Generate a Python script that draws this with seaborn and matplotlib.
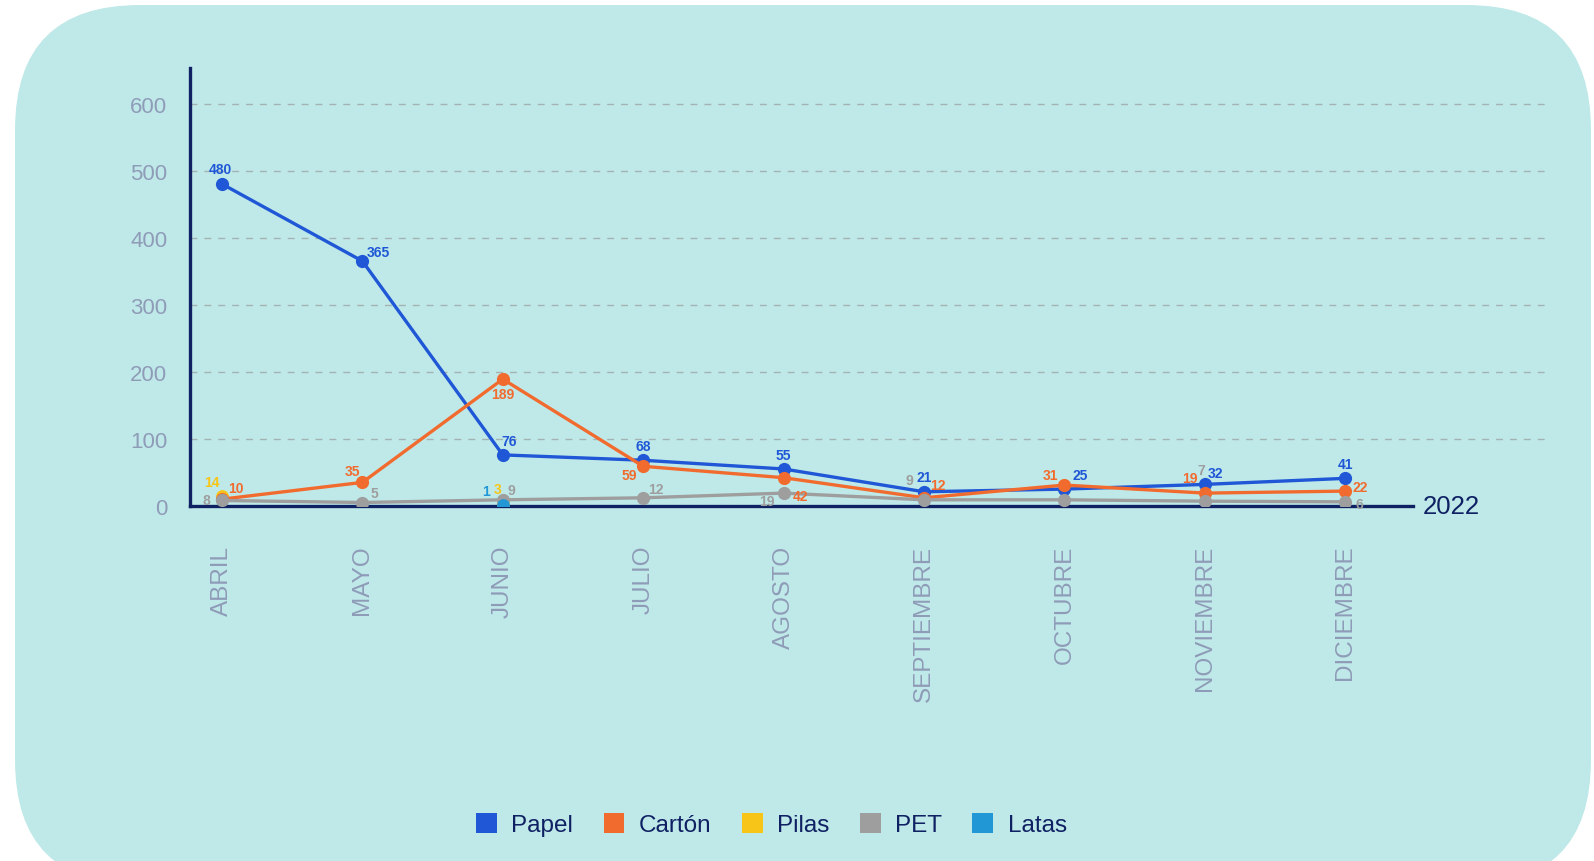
import numpy as np
import pandas as pd
import matplotlib
matplotlib.use("Agg")
import matplotlib.pyplot as plt
from matplotlib.patches import FancyBboxPatch, Patch
import seaborn as sns

# ---- data -------------------------------------------------------------
months = ["ABRIL", "MAYO", "JUNIO", "JULIO", "AGOSTO",
          "SEPTIEMBRE", "OCTUBRE", "NOVIEMBRE", "DICIEMBRE"]
papel = [480, 365, 76, 68, 55, 21, 25, 32, 41]
carton = [10, 35, 189, 59, 42, 12, 31, 19, 22]
pilas = [14, np.nan, 3, np.nan, np.nan, np.nan, np.nan, np.nan, np.nan]
pet = [8, 5, 9, 12, 19, 9, 9, 7, 6]
latas = [np.nan, np.nan, 1, np.nan, np.nan, np.nan, np.nan, np.nan, np.nan]
year_label = "2022"

names = ["Papel", "Cartón", "Pilas", "PET", "Latas"]
colors = {"Papel": "#1f57d6", "Cartón": "#f26b2e", "Pilas": "#f7c518",
          "PET": "#9e9e9e", "Latas": "#2197d6"}

# value-label offsets (pixels) per point; None = no label
offsets = {
    "Papel": [(-2, 15), (16, 9), (6, 14), (0, 14), (0, 14), (0, 15), (16, 14), (11, 11), (0, 14)],
    "Cartón": [(14, 11), (-10, 11), (0, -15), (-14, -9), (17, -18), (14, 13), (-14, 10), (-15, 15), (15, 4)],
    "Pilas": [(-10, 14), None, (-5, 15), None, None, None, None, None, None],
    "PET": [(-16, 0), (12, 10), (9, 10), (13, 9), (-17, -8), (-15, 20), None, (-4, 31), (14, -2)],
    "Latas": [None, None, (-17, 14), None, None, None, None, None, None],
}

NAVY = "#0f2163"
TICK = "#8f9cb8"
BG = "#bfe9e8"

sns.set_style("white")
plt.rcParams["font.family"] = ["Liberation Sans", "DejaVu Sans"]

fig = plt.figure(figsize=(15.94, 8.62), dpi=100)
fig.patch.set_facecolor("white")

# rounded background panel (pixel coordinates)
bg = fig.add_axes([0, 0, 1, 1])
bg.set_xlim(0, 1594)
bg.set_ylim(862, 0)
bg.axis("off")
bg.add_patch(FancyBboxPatch((15, 6), 1576, 880,
                            boxstyle="round,pad=0,rounding_size=125",
                            facecolor=BG, edgecolor="none"))

ax = fig.add_axes([0.119, 0.412, 0.850, 0.508])
ax.set_facecolor("none")

x = np.arange(len(months))
df = pd.DataFrame({"x": x, "Papel": papel, "Cartón": carton, "Pilas": pilas,
                   "PET": pet, "Latas": latas})

# scatter-only series (no continuous data)
sns.scatterplot(data=df, x="x", y="Pilas", color=colors["Pilas"], s=85,
                linewidth=0, ax=ax, zorder=3, legend=False)
sns.lineplot(data=df, x="x", y="Papel", color=colors["Papel"], marker="o",
             markersize=9.5, markeredgewidth=0, linewidth=2.4, ax=ax,
             zorder=4, legend=False)
sns.lineplot(data=df, x="x", y="Cartón", color=colors["Cartón"], marker="o",
             markersize=9.5, markeredgewidth=0, linewidth=2.4, ax=ax,
             zorder=5, legend=False)
sns.lineplot(data=df, x="x", y="PET", color=colors["PET"], marker="o",
             markersize=9.5, markeredgewidth=0, linewidth=2.4, ax=ax,
             zorder=6, legend=False)
sns.scatterplot(data=df, x="x", y="Latas", color=colors["Latas"], s=85,
                linewidth=0, ax=ax, zorder=7, legend=False)

# value labels
for name in names:
    vals = df[name].values
    for i, (v, off) in enumerate(zip(vals, offsets[name])):
        if off is None or np.isnan(v):
            continue
        ax.annotate(f"{int(v)}", (i, v), xytext=off, textcoords="offset pixels",
                    ha="center", va="center", fontsize=10, fontweight="bold",
                    color=colors[name], zorder=10)

# axes styling
xmin, xmax = -0.23, 9.42
ax.set_xlim(xmin, xmax)
ax.set_ylim(0, 653)
ax.set_yticks([0, 100, 200, 300, 400, 500, 600])
ax.set_xticks(x)
ax.set_xticklabels(months, rotation=90, va="top", ha="center")
ax.tick_params(axis="both", length=0, labelcolor=TICK)
ax.tick_params(axis="x", pad=28, labelsize=17.5)
ax.tick_params(axis="y", pad=16, labelsize=16)
ax.set_xlabel("")
ax.set_ylabel("")

for yv in [100, 200, 300, 400, 500, 600]:
    ax.axhline(yv, color="#a3b3b3", lw=1, ls=(0, (5, 5)), zorder=1)

for s in ["top", "right"]:
    ax.spines[s].set_visible(False)
for s in ["left", "bottom"]:
    ax.spines[s].set_color(NAVY)
    ax.spines[s].set_linewidth(2.4)
    ax.spines[s].set_zorder(2)
ax.spines["bottom"].set_bounds(xmin, 8.48)

ax.text(8.55, 0, year_label, ha="left", va="center", fontsize=18.5,
        color=NAVY, clip_on=False)

# legend
handles = [Patch(facecolor=colors[n], edgecolor="none", label=n) for n in names]
fig.legend(handles=handles, loc="center", bbox_to_anchor=(0.484, 0.042),
           ncol=5, frameon=False, fontsize=17.5, handlelength=0.85,
           handleheight=0.85, handletextpad=0.6, columnspacing=1.25,
           labelcolor=NAVY)

fig.savefig("out.png", dpi=100, facecolor="white")
